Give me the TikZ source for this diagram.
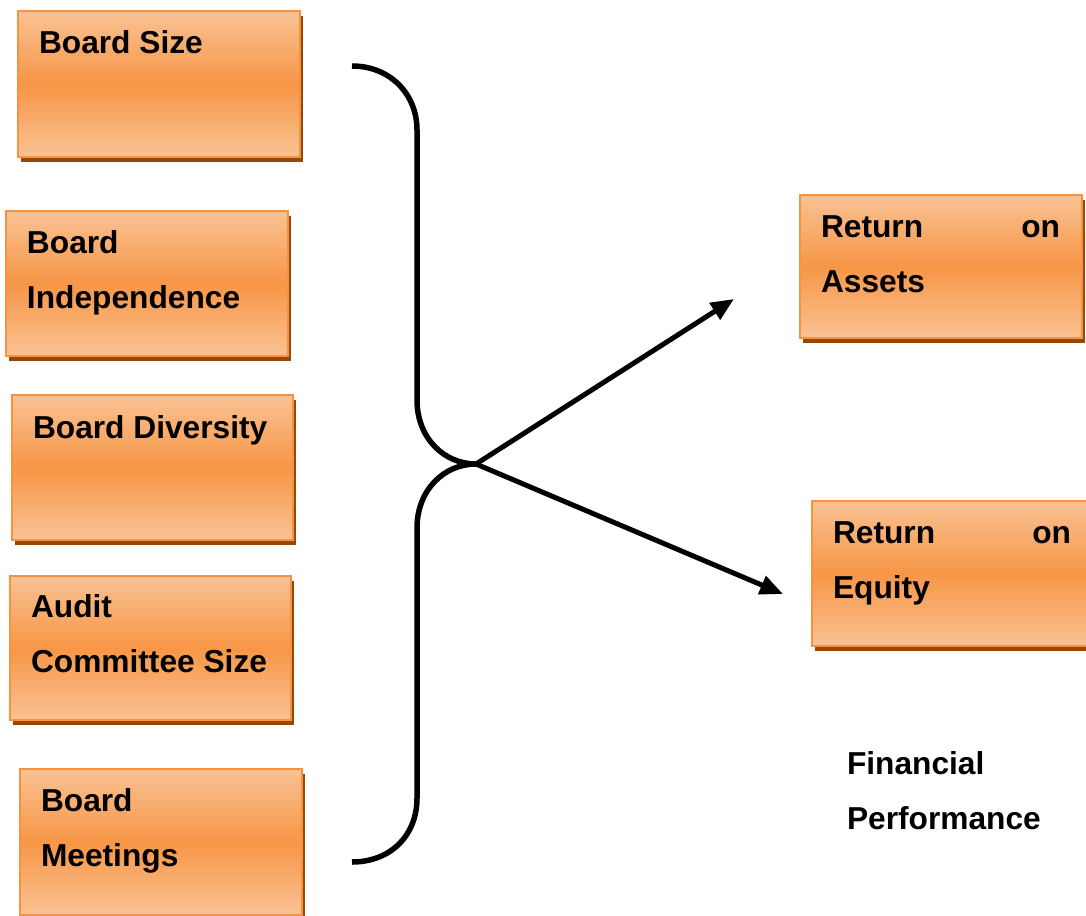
\documentclass[tikz,border=0pt]{standalone}
\usepackage{fontspec}
\setmainfont{Liberation Sans}
\usetikzlibrary{shadows,arrows.meta}

\definecolor{boxlight}{RGB}{249,194,148}
\definecolor{boxmid}{RGB}{247,150,70}
\definecolor{boxedge}{RGB}{246,146,64}
\definecolor{boxshadow}{RGB}{152,72,6}

\tikzset{
  factorbox/.style={
    rectangle, anchor=north west, inner sep=0pt, outer sep=0pt,
    draw=boxedge, line width=1.5pt,
    top color=boxlight, bottom color=boxlight, middle color=boxmid,
    drop shadow={shadow xshift=3pt, shadow yshift=-5pt, fill=boxshadow, opacity=1}
  },
  boxtext/.style={anchor=base west, inner sep=0pt, outer sep=0pt,
    font=\fontsize{31.7}{38}\selectfont\bfseries},
  boxtextr/.style={boxtext, anchor=base east},
  bracket/.style={line width=5.5pt},
  link/.style={line width=5pt, -{Triangle[length=23pt,width=19pt]}}
}

\begin{document}
\begin{tikzpicture}[x=1pt,y=-1pt]
  \clip (0,0) rectangle (1086,915);

  % governance boxes on the left
  \node[factorbox, minimum width=282pt, minimum height=146pt] (size)  at (18,11)  {};
  \node[factorbox, minimum width=282pt, minimum height=145pt] (indep) at (6,211)  {};
  \node[factorbox, minimum width=281pt, minimum height=145pt] (div)   at (12,395) {};
  \node[factorbox, minimum width=281pt, minimum height=144pt] (audit) at (10,576) {};
  \node[factorbox, minimum width=282pt, minimum height=146pt] (meet)  at (20,769) {};

  % performance boxes on the right
  \node[factorbox, minimum width=282pt, minimum height=143pt] (roa) at (800,195) {};
  \node[factorbox, minimum width=290pt, minimum height=145pt] (roe) at (812,501) {};

  % box captions
  \node[boxtext] (sizeT)   at (39,54)    {Board Size};
  \node[boxtext] (indepT1) at (27,253)   {Board};
  \node[boxtext] (indepT2) at (27,308)   {Independence};
  \node[boxtext] (divT)    at (33,438)   {Board Diversity};
  \node[boxtext] (auditT1) at (31,617)   {Audit};
  \node[boxtext] (auditT2) at (31,672)   {Committee Size};
  \node[boxtext] (meetT1)  at (41,811)   {Board};
  \node[boxtext] (meetT2)  at (41,866)   {Meetings};

  \node[boxtext]  (roaT1) at (821,237)  {Return};
  \node[boxtextr] (roaT2) at (1060,237) {on};
  \node[boxtext]  (roaT3) at (821,292)  {Assets};
  \node[boxtext]  (roeT1) at (833,543)  {Return};
  \node[boxtextr] (roeT2) at (1071,543) {on};
  \node[boxtext]  (roeT3) at (833,598)  {Equity};

  \node[boxtext] (finT1) at (847,774) {Financial};
  \node[boxtext] (finT2) at (847,829) {Performance};

  % curly bracket joining the five factors
  \coordinate (brTop) at (352,66);
  \coordinate (cusp)  at (476,464);
  \coordinate (brBot) at (352,862);
  \draw[bracket] (brTop) .. controls (390,66) and (417,94) .. (417,130)
                 -- (417,400) .. controls (417,438) and (444,464) .. (cusp);
  \draw[bracket] (cusp) .. controls (444,464) and (417,490) .. (417,528)
                 -- (417,798) .. controls (417,836) and (390,862) .. (brBot);

  % arrows to the two performance measures
  \coordinate (tipA) at (734,299);
  \coordinate (tipB) at (783,594);
  \draw[link] (cusp) -- (tipA);
  \draw[link] (cusp) -- (tipB);
\end{tikzpicture}
\end{document}
